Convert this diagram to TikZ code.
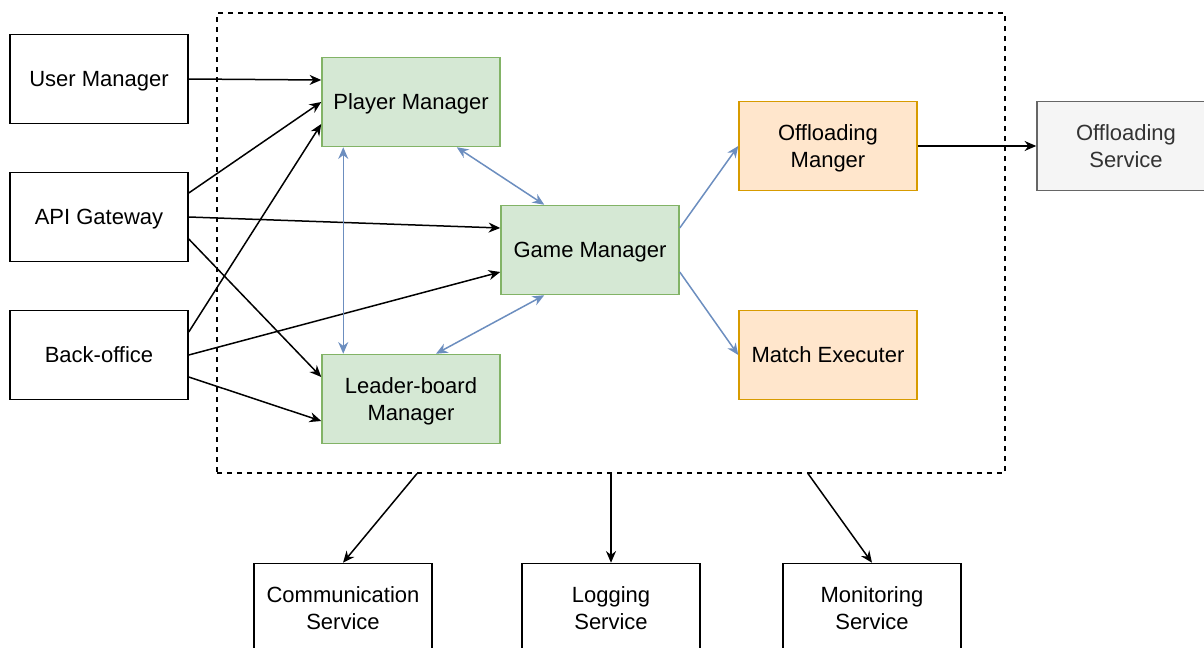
\documentclass[tikz,border=0pt]{standalone}
\usepackage{fontspec}
\setmainfont{Liberation Sans}
\usepackage{xcolor}
\usetikzlibrary{arrows.meta, positioning, calc}
\definecolor{gmfill}{HTML}{D5E8D4}
\definecolor{gmline}{HTML}{82B366}
\definecolor{offill}{HTML}{FFE6CC}
\definecolor{ofline}{HTML}{D79B00}
\definecolor{svfill}{HTML}{F5F5F5}
\definecolor{svline}{HTML}{666666}
\definecolor{svtext}{HTML}{333333}
\definecolor{link}{HTML}{6C8EBF}

\begin{document}
\begin{tikzpicture}[x=0.6pt, y=-0.6pt, >={Stealth[length=7pt, width=6pt]},
        box/.style={rectangle, draw, line width=0.9pt, minimum width=106.8pt,
                    minimum height=53.4pt, align=center, inner sep=2pt,
                    text depth=0pt, font=\fontsize{13.2}{16.2}\selectfont},
        core/.style={box, fill=gmfill, draw=gmline},
        worker/.style={box, fill=offill, draw=ofline},
        extern/.style={box, fill=svfill, draw=svline, text=svtext},
        flow/.style={->, line width=0.9pt},
        sync/.style={<->, line width=0.9pt, draw=link}]
      \useasboundingbox (0,0) rectangle (1204,648);

      % backend boundary
      \node[draw, dashed, dash pattern=on 3pt off 3pt, line width=0.7pt,
            minimum width=472.8pt, minimum height=276pt] (backend) at (611,243) {};

      % clients
      \node[box] (user) at (99,79) {User Manager};
      \node[box] (api) at (99,217) {API Gateway};
      \node[box] (back) at (99,355) {Back-office};

      % managers
      \node[core] (player) at (411,102) {Player Manager};
      \node[core] (game) at (590,250) {Game Manager};
      \node[core] (board) at (411,399) {Leader-board\\Manager};
      \node[worker] (offmgr) at (828,146) {Offloading\\Manger};
      \node[worker] (match) at (828,355) {Match Executer};
      \node[extern] (offsvc) at (1126,146) {Offloading\\Service};

      % shared services
      \node[box] (comm) at (343,608) {Communication\\Service};
      \node[box] (log) at (611,608) {Logging\\Service};
      \node[box] (mon) at (872,608) {Monitoring\\Service};

      \draw[flow] (user.east) -- ($(player.west)+(0,-22)$);
      \draw[flow] ($(api.east)+(0,-24)$) -- (player.west);
      \draw[flow] (api.east) -- ($(game.west)+(0,-22)$);
      \draw[flow] ($(api.east)+(0,22)$) -- ($(board.west)+(0,-22)$);
      \draw[flow] ($(back.east)+(0,-23)$) -- ($(player.west)+(0,22)$);
      \draw[flow] (back.east) -- ($(game.west)+(0,22)$);
      \draw[flow] ($(back.east)+(0,22)$) -- ($(board.west)+(0,22)$);

      \draw[sync] ($(player.south east)+(-44,0)$) -- ($(game.north west)+(44,0)$);
      \draw[sync] ($(player.south west)+(22,0)$) -- ($(board.north west)+(22,0)$);
      \draw[sync] ($(game.south west)+(44,0)$) -- ($(board.north)+(25,0)$);
      \draw[->, line width=0.9pt, draw=link] ($(game.east)+(0,-22)$) -- (offmgr.west);
      \draw[->, line width=0.9pt, draw=link] ($(game.east)+(0,22)$) -- (match.west);

      \draw[flow] (offmgr.east) -- (offsvc.west);

      \draw[flow] ($(backend.south)+(-194,0)$) -- (comm.north);
      \draw[flow] (backend.south) -- (log.north);
      \draw[flow] ($(backend.south)+(197,0)$) -- (mon.north);
    \end{tikzpicture}
\end{document}
